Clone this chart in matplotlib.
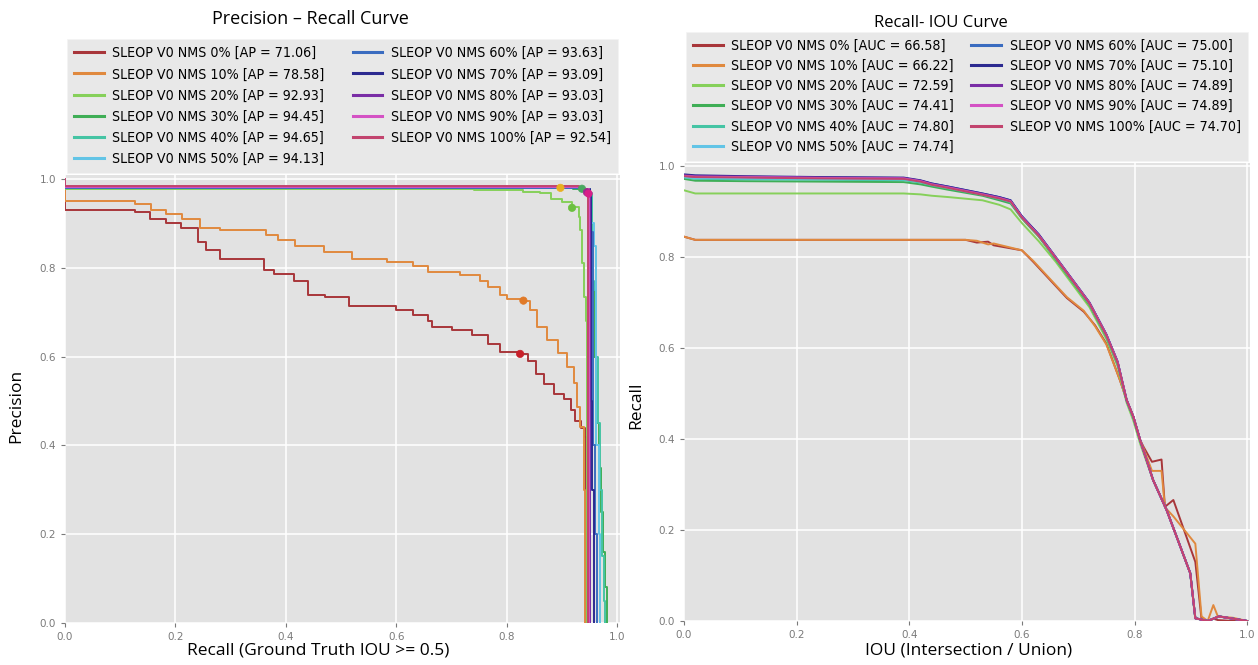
import matplotlib
matplotlib.use("Agg")
import matplotlib.pyplot as plt
from matplotlib.font_manager import FontProperties

plt.style.use("ggplot")

# legend labels / colours (same order for both panels)
nms_levels = ["0%", "10%", "20%", "30%", "40%", "50%", "60%", "70%", "80%", "90%", "100%"]
ap_values = ["71.06", "78.58", "92.93", "94.45", "94.65", "94.13", "93.63", "93.09", "93.03", "93.03", "92.54"]
auc_values = ["66.58", "66.22", "72.59", "74.41", "74.80", "74.74", "75.00", "75.10", "74.89", "74.89", "74.70"]
colors = ["#a8363a", "#e0893e", "#86d05a", "#3fae56", "#45c4a4", "#62c4e6",
          "#3a6cc0", "#2c2a90", "#7a2ea6", "#d452c4", "#c2446e"]

# precision-recall curves (step points)
pr_recall = [
    [0, 0, 0.126, 0.153, 0.183, 0.21, 0.24, 0.255, 0.28, 0.36, 0.378, 0.414, 0.44, 0.47, 0.514,
     0.558, 0.60, 0.63, 0.658, 0.665, 0.70, 0.737, 0.766, 0.788, 0.824, 0.838, 0.853, 0.867,
     0.885, 0.903, 0.917, 0.924, 0.935, 0.942, 0.944],
    [0, 0, 0.126, 0.155, 0.183, 0.212, 0.245, 0.28, 0.363, 0.385, 0.417, 0.468, 0.52, 0.583,
     0.63, 0.658, 0.716, 0.752, 0.766, 0.788, 0.80, 0.827, 0.842, 0.855, 0.873, 0.893, 0.909,
     0.921, 0.927, 0.933, 0.94, 0.942],
    [0, 0, 0.74, 0.83, 0.86, 0.88, 0.90, 0.918, 0.93, 0.933, 0.936, 0.939, 0.943, 0.945],
    [0, 0, 0.92, 0.936, 0.95, 0.955, 0.958, 0.962, 0.966, 0.97, 0.974, 0.978, 0.982, 0.982],
    [0, 0, 0.93, 0.95, 0.955, 0.958, 0.962, 0.965, 0.968, 0.972, 0.976, 0.977],
    [0, 0, 0.93, 0.95, 0.953, 0.958, 0.962, 0.966, 0.968, 0.969],
    [0, 0, 0.93, 0.95, 0.953, 0.956, 0.96, 0.963, 0.964],
    [0, 0, 0.93, 0.95, 0.952, 0.955, 0.957, 0.958],
    [0, 0, 0.93, 0.948, 0.95, 0.951],
    [0, 0, 0.93, 0.948, 0.949],
    [0, 0, 0.93, 0.946, 0.947],
]
pr_precision = [
    [1.0, 0.93, 0.925, 0.91, 0.90, 0.89, 0.858, 0.839, 0.82, 0.794, 0.787, 0.77, 0.738, 0.734,
     0.715, 0.715, 0.704, 0.693, 0.68, 0.666, 0.659, 0.648, 0.629, 0.61, 0.606, 0.59, 0.561,
     0.539, 0.516, 0.505, 0.479, 0.456, 0.438, 0.419, 0.0],
    [1.0, 0.95, 0.943, 0.929, 0.92, 0.91, 0.89, 0.884, 0.873, 0.862, 0.848, 0.835, 0.82, 0.813,
     0.805, 0.79, 0.783, 0.771, 0.757, 0.738, 0.73, 0.726, 0.705, 0.667, 0.637, 0.608, 0.577,
     0.54, 0.487, 0.441, 0.30, 0.0],
    [1.0, 0.977, 0.975, 0.97, 0.968, 0.955, 0.949, 0.937, 0.915, 0.885, 0.81, 0.734, 0.68, 0.0],
    [1.0, 0.98, 0.978, 0.975, 0.965, 0.75, 0.6, 0.45, 0.35, 0.25, 0.16, 0.08, 0.02, 0.0],
    [1.0, 0.98, 0.977, 0.968, 0.77, 0.75, 0.6, 0.45, 0.3, 0.15, 0.05, 0.0],
    [1.0, 0.98, 0.977, 0.967, 0.9, 0.85, 0.4, 0.2, 0.05, 0.0],
    [1.0, 0.98, 0.977, 0.966, 0.88, 0.4, 0.2, 0.05, 0.0],
    [1.0, 0.981, 0.977, 0.966, 0.5, 0.3, 0.1, 0.0],
    [1.0, 0.982, 0.977, 0.967, 0.3, 0.0],
    [1.0, 0.983, 0.978, 0.967, 0.0],
    [1.0, 0.984, 0.978, 0.965, 0.0],
]

# operating-point dots on the PR panel
dot_recall = [0.824, 0.83, 0.897, 0.918, 0.936, 0.945, 0.948]
dot_precision = [0.606, 0.726, 0.98, 0.935, 0.978, 0.97, 0.967]
dot_colors = ["#c8202a", "#e07a28", "#e8b020", "#6cc040", "#4aa860", "#a02890", "#d81e88"]

# recall-IOU curves
iou_low = [0, 0.02, 0.50, 0.52, 0.54, 0.55, 0.60, 0.62, 0.65, 0.68, 0.71, 0.73, 0.75, 0.774,
           0.786, 0.798, 0.81, 0.816, 0.831, 0.848, 0.854, 0.869, 0.908, 0.919, 0.93, 0.94,
           0.948, 0.975, 1.0]
iou_high = [0, 0.02, 0.11, 0.25, 0.39, 0.42, 0.44, 0.47, 0.53, 0.56, 0.58, 0.60, 0.63, 0.66,
            0.69, 0.72, 0.75, 0.77, 0.786, 0.798, 0.81, 0.833, 0.857, 0.877, 0.899, 0.908,
            0.93, 0.95, 1.0]
iou_recall = [
    [0.845, 0.838, 0.838, 0.832, 0.834, 0.826, 0.815, 0.79, 0.75, 0.71, 0.68, 0.65, 0.61, 0.53,
     0.486, 0.449, 0.398, 0.383, 0.35, 0.355, 0.251, 0.266, 0.13, 0.004, 0.0, 0.005, 0.002, 0.0, 0.0],
    [0.845, 0.838, 0.838, 0.836, 0.828, 0.83, 0.815, 0.792, 0.752, 0.712, 0.682, 0.648, 0.608, 0.53,
     0.486, 0.449, 0.398, 0.38, 0.33, 0.33, 0.25, 0.23, 0.17, 0.01, 0.0, 0.035, 0.01, 0.007, 0.0],
    [0.947, 0.94, 0.94, 0.94, 0.94, 0.938, 0.935, 0.932, 0.925, 0.915, 0.905, 0.875, 0.835, 0.79,
     0.74, 0.69, 0.62, 0.56, 0.48, 0.44, 0.39, 0.31, 0.244, 0.178, 0.105, 0.006, 0.0, 0.01, 0.0],
    [0.972, 0.968, 0.967, 0.966, 0.965, 0.96, 0.955, 0.948, 0.935, 0.925, 0.918, 0.885, 0.845, 0.795,
     0.745, 0.695, 0.625, 0.565, 0.484, 0.447, 0.397, 0.31, 0.244, 0.178, 0.105, 0.006, 0.0, 0.01, 0.0],
    [0.975, 0.972, 0.971, 0.97, 0.969, 0.964, 0.958, 0.951, 0.937, 0.928, 0.921, 0.887, 0.847, 0.797,
     0.747, 0.697, 0.627, 0.567, 0.485, 0.448, 0.397, 0.31, 0.244, 0.178, 0.105, 0.006, 0.0, 0.01, 0.0],
    [0.976, 0.974, 0.973, 0.972, 0.971, 0.966, 0.96, 0.953, 0.938, 0.93, 0.922, 0.888, 0.848, 0.798,
     0.748, 0.698, 0.628, 0.568, 0.486, 0.449, 0.398, 0.31, 0.244, 0.178, 0.105, 0.006, 0.0, 0.01, 0.0],
    [0.979, 0.977, 0.976, 0.975, 0.974, 0.968, 0.962, 0.955, 0.94, 0.932, 0.925, 0.89, 0.85, 0.80,
     0.75, 0.70, 0.63, 0.57, 0.486, 0.449, 0.398, 0.31, 0.244, 0.178, 0.105, 0.006, 0.0, 0.01, 0.0],
    [0.982, 0.98, 0.978, 0.976, 0.975, 0.969, 0.962, 0.955, 0.94, 0.932, 0.925, 0.89, 0.85, 0.80,
     0.75, 0.70, 0.63, 0.57, 0.486, 0.449, 0.398, 0.31, 0.244, 0.178, 0.105, 0.006, 0.0, 0.01, 0.0],
    [0.98, 0.978, 0.977, 0.975, 0.974, 0.968, 0.961, 0.954, 0.939, 0.931, 0.924, 0.889, 0.849, 0.80,
     0.75, 0.70, 0.63, 0.57, 0.486, 0.449, 0.398, 0.31, 0.244, 0.178, 0.105, 0.006, 0.0, 0.01, 0.0],
    [0.979, 0.977, 0.976, 0.974, 0.973, 0.967, 0.96, 0.953, 0.938, 0.93, 0.923, 0.888, 0.848, 0.799,
     0.749, 0.699, 0.629, 0.569, 0.486, 0.449, 0.398, 0.31, 0.244, 0.178, 0.105, 0.006, 0.0, 0.01, 0.0],
    [0.978, 0.976, 0.975, 0.973, 0.972, 0.966, 0.959, 0.952, 0.937, 0.929, 0.922, 0.887, 0.847, 0.798,
     0.748, 0.698, 0.628, 0.568, 0.486, 0.449, 0.398, 0.31, 0.244, 0.178, 0.105, 0.006, 0.0, 0.01, 0.0],
]

label_font = "Open Sans"

fig = plt.figure(figsize=(12.58, 6.65), dpi=100)
fig.patch.set_facecolor("white")
ax1 = fig.add_axes([0.0517, 0.0632, 0.4412, 0.6737])
ax2 = fig.add_axes([0.5437, 0.0662, 0.4499, 0.6887])

for ax in (ax1, ax2):
    ax.set_facecolor("#e2e2e2")
    ax.grid(True, color="white", linewidth=1.1)
    ax.set_xticks([0, 0.2, 0.4, 0.6, 0.8, 1.0])
    ax.set_yticks([0, 0.2, 0.4, 0.6, 0.8, 1.0])
    ax.tick_params(labelsize=7.5, labelcolor="#7a7a7a", color="#7a7a7a", length=3)
    for s in ax.spines.values():
        s.set_visible(False)

# left panel
for i in range(len(nms_levels)):
    ax1.plot(pr_recall[i], pr_precision[i], drawstyle="steps-post", color=colors[i], lw=1.4,
             label=f"SLEOP V0 NMS {nms_levels[i]} [AP = {ap_values[i]}]")
ax1.scatter(dot_recall, dot_precision, c=dot_colors, s=28, zorder=5)
ax1.set_xlim(0, 1.005)
ax1.set_ylim(0, 1.009)

# right panel
for i in range(len(nms_levels)):
    xs = iou_low if i < 2 else iou_high
    ax2.plot(xs, iou_recall[i], color=colors[i], lw=1.4,
             label=f"SLEOP V0 NMS {nms_levels[i]} [AUC = {auc_values[i]}]")
ax2.set_xlim(0, 1.005)
ax2.set_ylim(0, 1.007)

for ax, lsp in ((ax1, 0.5), (ax2, 0.44)):
    leg = ax.legend(loc="lower left", bbox_to_anchor=(0, 1.0, 1, 0.3), mode="expand", ncol=2,
                    borderaxespad=0.15,
                    prop=FontProperties(family="DejaVu Sans", stretch="condensed", size=10.2),
                    handlelength=2.1, handletextpad=0.6, labelspacing=lsp, frameon=True,
                    fancybox=False, columnspacing=0.6, borderpad=0.5)
    leg.get_frame().set_facecolor("#e8e8e8")
    leg.get_frame().set_edgecolor("#f4f4f4")
    leg.get_frame().set_alpha(1.0)
    for line in leg.get_lines():
        line.set_linewidth(2.2)

fig.text(0.247, 0.971, "Precision \u2013 Recall Curve", ha="center", va="center",
         fontsize=13, family=label_font)
fig.text(0.748, 0.966, "Recall- IOU Curve", ha="center", va="center",
         fontsize=12, family=label_font)
fig.text(0.253, 0.022, "Recall (Ground Truth IOU >= 0.5)", ha="center", va="center",
         fontsize=12.5, family=label_font)
fig.text(0.77, 0.022, "IOU (Intersection / Union)", ha="center", va="center",
         fontsize=12.5, family=label_font)
fig.text(0.013, 0.39, "Precision", ha="center", va="center", rotation=90,
         fontsize=12.5, family=label_font)
fig.text(0.506, 0.39, "Recall", ha="center", va="center", rotation=90,
         fontsize=12.5, family=label_font)

fig.savefig("out.png", dpi=100)
